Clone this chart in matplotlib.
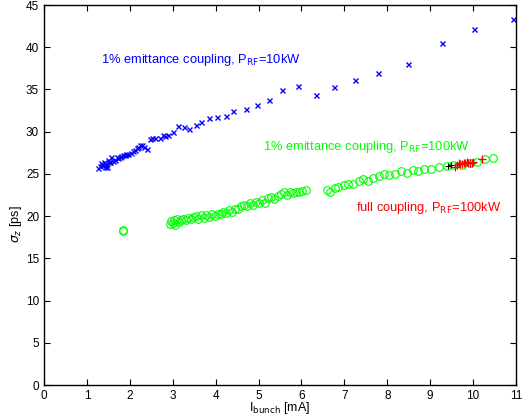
import numpy as np
import matplotlib
matplotlib.use('Agg')
import matplotlib.pyplot as plt

plt.rcParams['font.family'] = ['Liberation Sans', 'DejaVu Sans']

# 1% emittance coupling, P_RF = 10 kW (blue x)
i_10kw = [1.27, 1.31, 1.33, 1.36, 1.38, 1.40, 1.42, 1.44, 1.46, 1.48, 1.52, 1.54,
          1.56, 1.60, 1.65, 1.70, 1.72, 1.77, 1.80, 1.85, 1.88, 1.92, 1.96, 2.02,
          2.08, 2.12, 2.16, 2.20, 2.24, 2.28, 2.34, 2.39, 2.47, 2.52, 2.59, 2.70,
          2.78, 2.82, 2.90, 3.01, 3.13, 3.26, 3.39, 3.54, 3.67, 3.85, 4.04, 4.23,
          4.41, 4.70, 4.96, 5.24, 5.54, 5.92, 6.34, 6.76, 7.25, 7.79, 8.49, 9.27,
          10.02, 10.93]
s_10kw = [25.7, 25.9, 26.3, 26.0, 26.05, 26.4, 25.8, 26.2, 25.85, 26.6, 26.4, 26.45,
          27.0, 26.5, 26.6, 27.0, 26.9, 27.0, 27.1, 27.2, 27.2, 27.3, 27.4, 27.5,
          27.7, 27.8, 28.1, 28.2, 28.4, 28.4, 28.2, 28.0, 29.1, 29.2, 29.2, 29.2,
          29.6, 29.5, 29.6, 30.0, 30.7, 30.6, 30.3, 30.8, 31.1, 31.6, 31.7, 31.9,
          32.4, 32.7, 33.1, 33.8, 34.9, 35.4, 34.4, 35.25, 36.1, 36.9, 38.0, 40.5,
          42.2, 43.4]

# 1% emittance coupling, P_RF = 100 kW (green o)
i_100kw = [1.85, 1.85,
           2.93, 2.97, 3.00, 3.03, 3.06, 3.10, 3.14, 3.20, 3.25, 3.30, 3.36, 3.42,
           3.48, 3.55, 3.60, 3.66, 3.72, 3.78, 3.85, 3.92, 3.98, 4.05, 4.12, 4.18,
           4.25, 4.32, 4.38, 4.45, 4.52, 4.58, 4.65, 4.72, 4.80, 4.86, 4.93, 5.00,
           5.08, 5.15, 5.22, 5.30, 5.37, 5.45, 5.52, 5.60, 5.66, 5.73, 5.80, 5.88,
           5.95, 6.02, 6.10,
           6.59, 6.67, 6.78, 6.86, 6.98, 7.09, 7.21, 7.33, 7.43, 7.56, 7.67, 7.81,
           7.92, 8.05, 8.18, 8.31, 8.45, 8.59, 8.72, 8.86, 9.01, 9.21, 9.38, 9.54,
           9.73, 9.93, 10.10, 10.28, 10.46]
s_100kw = [18.4, 18.2,
           19.1, 19.4, 19.2, 19.5, 19.0, 19.6, 19.3, 19.5, 19.7, 19.5, 19.8, 19.6,
           19.9, 20.0, 19.7, 20.1, 19.8, 20.1, 19.9, 20.2, 20.0, 20.3, 20.2, 20.5,
           20.4, 20.7, 20.5, 20.9, 20.8, 21.2, 21.3, 21.2, 21.5, 21.3, 21.7, 21.6,
           21.9, 21.6, 22.1, 22.3, 22.0, 22.4, 22.6, 22.9, 22.5, 22.8, 22.7, 22.9,
           22.8, 23.0, 23.1,
           23.1, 22.9, 23.3, 23.4, 23.7, 23.8, 23.8, 24.1, 24.4, 24.1, 24.55, 24.7,
           24.95, 24.9, 25.0, 25.3, 25.15, 25.5, 25.4, 25.55, 25.6, 25.85, 25.9, 26.05,
           26.1, 26.25, 26.45, 26.8, 26.9]

# full coupling, P_RF = 100 kW (red +)
i_full = [9.58, 9.62, 9.66, 9.70, 9.74, 9.78, 9.81, 9.85, 9.89, 9.93, 9.97, 10.0, 10.2]
s_full = [25.85, 26.1, 26.25, 26.2, 26.2, 26.3, 26.25, 26.35, 26.25, 26.3, 26.3, 26.35, 26.8]

# black +
i_black = [9.42, 9.48]
s_black = [25.9, 26.1]

fig = plt.figure(figsize=(5.32, 4.17), dpi=100)
ax = fig.add_axes([0.0827, 0.0767, 0.8873, 0.9113])

ax.plot(i_10kw, s_10kw, 'x', color='#0000ff', ms=3.6, mew=1.0)
ax.plot(i_100kw, s_100kw, 'o', color='#00ff00', ms=5.5, mew=0.8, fillstyle='none')
ax.plot(i_black, s_black, '+', color='black', ms=5, mew=0.8)
ax.plot(i_full, s_full, '+', color='#ff0000', ms=5.5, mew=0.9)

ax.text(1.34, 38.5, '1% emittance coupling, P$_{\\rm RF}$=10kW', color='#0000ff',
        fontsize=9.3, va='center')
ax.text(5.10, 28.2, '1% emittance coupling, P$_{\\rm RF}$=100kW', color='#00ff00',
        fontsize=9.3, va='center')
ax.text(7.27, 21.0, 'full coupling, P$_{\\rm RF}$=100kW', color='#ff0000',
        fontsize=9.3, va='center')

ax.set_xlim(0, 11)
ax.set_ylim(0, 45)
ax.set_xticks(range(0, 12))
ax.set_yticks(range(0, 46, 5))
ax.tick_params(direction='in', top=True, right=True, labelsize=8.5, length=4, pad=3.5)
for sp in ax.spines.values():
    sp.set_linewidth(1.0)

ax.set_xlabel('I$_{\\rm bunch}$ [mA]', fontsize=9, labelpad=-1)
ax.set_ylabel('$\\sigma_z$ [ps]', fontsize=9)
ax.yaxis.set_label_coords(-0.042, 0.424)

fig.savefig('out.png', dpi=100)
